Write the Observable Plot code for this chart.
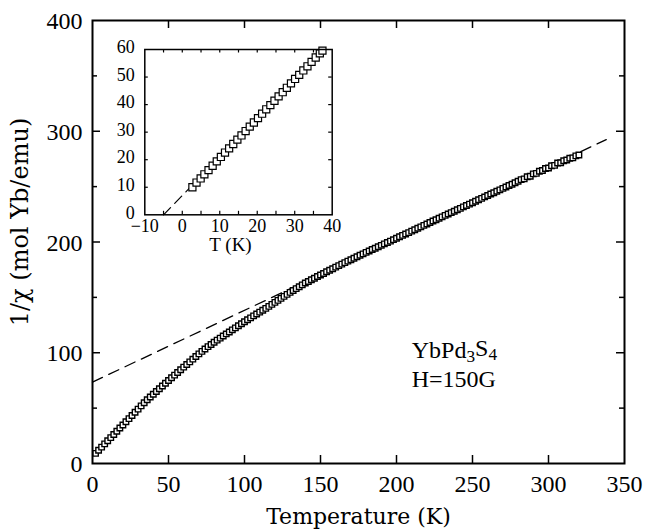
<!DOCTYPE html>
<html><head><meta charset="utf-8">
<script src="https://cdn.jsdelivr.net/npm/d3@7"></script>
<script src="https://cdn.jsdelivr.net/npm/@observablehq/plot@0.6"></script>
<style>
html,body{margin:0;padding:0;background:#fff;}
#wrap{position:relative;width:645px;height:531px;overflow:hidden;}
#main{position:absolute;left:0;top:0;}
#inset{position:absolute;left:95px;top:30px;}
svg{overflow:visible;}
</style></head><body><div id="wrap"><div id="main"></div><div id="inset"></div></div>
<script>
// ---- main data: 1/chi vs T (YbPd3S4, H=150G) ----
const temperature = [2,4,6,8,10,12,14,16,18,20,22,24,26,28,30,32,34,36,38,40,
 42,44,46,48,50,52,54,56,58,60,62,64,66,68,70,72,74,76,78,80,
 82,84,86,88,90,92,94,96,98,100,102,104,106,108,110,112,114,116,118,120,
 122,124,126,128,130,132,134,136,138,140,142,144,146,148,150,152,154,156,158,160,
 162,164,166,168,170,172,174,176,178,180,182,184,186,188,190,192,194,196,198,200,
 202,204,206,208,210,212,214,216,218,220,222,224,226,228,230,232,234,236,238,240,
 242,244,246,248,250,252,254,256,258,260,262,264,266,268,270,272,274,276,278,280,
 282,284,286,288,290,292,294,296,298,300,302,304,306,308,310,312,314,316,318,320];
const invChi = [9.1,11.9,14.8,17.7,20.5,23.4,26.2,29.1,32.0,34.8,37.7,40.5,43.4,46.3,49.1,52.0,54.8,57.6,60.1,62.5,
 65.0,67.5,70.0,72.5,75.0,77.4,79.8,82.2,84.6,87.0,89.4,91.8,94.2,96.6,99.0,101.2,103.4,105.5,107.5,109.5,
 111.4,113.2,115.1,117.0,118.8,120.7,122.5,124.4,126.2,128.0,129.8,131.5,133.3,135.0,136.7,138.4,140.1,141.9,143.7,145.5,
 147.3,149.1,150.9,152.7,154.5,156.2,157.9,159.6,161.3,163.0,164.4,165.9,167.3,168.8,170.2,171.6,173.1,174.5,175.9,177.3,
 178.7,180.0,181.4,182.7,184.0,185.3,186.7,188.0,189.3,190.6,191.9,193.2,194.4,195.7,197.0,198.3,199.6,200.8,202.1,203.4,
 204.7,206.0,207.2,208.5,209.8,211.1,212.4,213.7,215.0,216.3,217.6,218.9,220.1,221.4,222.7,224.0,225.3,226.5,227.8,229.1,
 230.4,231.7,232.9,234.2,235.5,236.8,238.1,239.4,240.7,242.0,243.3,244.5,245.8,247.1,248.4,249.7,251.0,252.2,253.5,254.8,
 256.3,257.0,258.9,259.4,261.5,262.0,263.9,264.6,266.4,266.8,268.9,269.2,271.3,271.5,273.4,274.0,275.6,276.0,277.8,278.6];
// high-T Curie-Weiss fit (dashed)
const fitHighT = [0, 338];
const fitHighV = [73.5, 292.5];

// ---- inset data: low-T region ----
const insetT = [2.7,3.8,4.9,5.9,7.0,8.1,9.2,10.3,11.4,12.5,13.6,14.7,15.8,16.9,18.0,19.1,20.2,
 21.3,22.4,23.5,24.6,25.7,26.8,27.9,29.0,30.1,31.2,32.3,33.4,34.5,35.6,36.7,37.4];
const insetInvChi = [10.0,11.7,13.2,14.7,16.2,17.8,19.4,21.0,22.6,24.1,25.7,27.3,28.8,30.4,32.0,33.5,35.1,
 36.7,38.3,39.8,41.4,43.0,44.5,46.1,47.7,49.3,50.8,52.4,53.9,55.5,57.1,58.6,59.6];
const fitLowT = [-5, 37.9];
const fitLowV = [0, 60];

// ---- ticks & labels ----
const xTicks = [0,50,100,150,200,250,300,350];
const yTicks = [0,100,200,300,400];
const yMinor = [50,150,250,350];
const insetXTicks = [-10,0,10,20,30,40];
const insetXMinor = [-5,0,5,10,15,20,25,30,35];
const insetYTicks = [0,10,20,30,40,50,60];
const insetYInner = [10,20,30,40,50];
const xLabel = "Temperature (K)";
const yLabel = "1/\u03c7 (mol Yb/emu)";
const insetXLabel = "T (K)";
const annotations = [{t: 210, v: 95.5, label: "YbPd3S4"}, {t: 210, v: 69.5, label: "H=150G"}];

const serif = "Liberation Serif, Times New Roman, serif";
const serif2 = "DejaVu Serif, serif";
const fmt = d => String(d).replace("-", "\u2212");

// ---- main plot ----
const W = 645, H = 531, mL = 92, mR = 21, mT = 20, mB = 68;
const pw = W - mL - mR, ph = H - mT - mB;
const rows = temperature.map((t, i) => ({t, v: invChi[i]}));
const fitHigh = fitHighT.map((t, i) => ({t, v: fitHighV[i]}));

const main = Plot.plot({
  width: W, height: H, marginLeft: mL, marginRight: mR, marginTop: mT, marginBottom: mB,
  x: {domain: [0, 350], axis: null},
  y: {domain: [0, 400], axis: null},
  style: {background: "transparent", fontFamily: serif, color: "black", overflow: "visible"},
  marks: [
    // inward ticks
    Plot.tickX(xTicks.slice(1, -1), {x: d => d, insetTop: ph - 8, stroke: "black", strokeWidth: 1.5}),
    Plot.tickX(xTicks.slice(1, -1), {x: d => d, insetBottom: ph - 8, stroke: "black", strokeWidth: 1.5}),
    Plot.tickY(yTicks.slice(1, -1), {y: d => d, insetRight: pw - 8, stroke: "black", strokeWidth: 1.5}),
    Plot.tickY(yTicks.slice(1, -1), {y: d => d, insetLeft: pw - 8, stroke: "black", strokeWidth: 1.5}),
    Plot.tickY(yMinor, {y: d => d, insetRight: pw - 5, stroke: "black", strokeWidth: 1.5}),
    Plot.tickY(yMinor, {y: d => d, insetLeft: pw - 5, stroke: "black", strokeWidth: 1.5}),
    // fit line
    Plot.line(fitHigh, {x: "t", y: "v", stroke: "black", strokeWidth: 1.3, strokeDasharray: "11,7"}),
    // data
    Plot.dot(rows, {x: "t", y: "v", symbol: "square", r: 3.1, fill: "white", stroke: "black", strokeWidth: 1.4}),
    Plot.frame({stroke: "black", strokeWidth: 2}),
    // tick labels
    Plot.text(xTicks, {x: d => d, frameAnchor: "bottom", lineAnchor: "middle", dy: 21, text: fmt, fontSize: 24, fontFamily: serif}),
    Plot.text(yTicks, {y: d => d, frameAnchor: "left", lineAnchor: "middle", dx: -10, dy: 1, textAnchor: "end", text: fmt, fontSize: 24, fontFamily: serif}),
    // axis labels
    Plot.text([xLabel], {frameAnchor: "bottom", lineAnchor: "middle", textAnchor: "middle", dy: 53, text: d => d, fontSize: 22, fontFamily: serif2}),
    Plot.text([yLabel], {frameAnchor: "left", lineAnchor: "middle", textAnchor: "middle", dx: -72, dy: -20, rotate: -90, text: d => d, fontSize: 24, fontFamily: serif2}),
    // annotations
    Plot.text(annotations, {x: "t", y: "v", text: "label", textAnchor: "start", lineAnchor: "bottom", fontSize: 24, fontFamily: serif})
  ]
});
document.getElementById("main").appendChild(main);

// subscripts for chemical formula
d3.select(main).selectAll("text").filter(function() { return this.textContent === "YbPd3S4"; })
  .each(function() {
    const t = d3.select(this);
    t.text(null);
    t.append("tspan").text("YbPd");
    t.append("tspan").attr("dy", "0.25em").attr("font-size", "72%").text("3");
    t.append("tspan").attr("dy", "-0.25em").text("S");
    t.append("tspan").attr("dy", "0.25em").attr("font-size", "72%").text("4");
  });

// ---- inset ----
const iW = 250, iH = 230, iL = 49.3, iT = 19, iR = 13.3, iB = 45.7;
const ipw = iW - iL - iR, iph = iH - iT - iB;
const insetRows = insetT.map((t, i) => ({t, v: insetInvChi[i]}));
const fitLow = fitLowT.map((t, i) => ({t, v: fitLowV[i]}));
const inset = Plot.plot({
  width: iW, height: iH, marginLeft: iL, marginRight: iR, marginTop: iT, marginBottom: iB,
  x: {domain: [-10, 40], axis: null},
  y: {domain: [0, 60], axis: null},
  style: {background: "transparent", fontFamily: serif, color: "black", overflow: "visible"},
  marks: [
    Plot.tickX(insetXMinor, {x: d => d, insetTop: iph - 3.5, stroke: "black", strokeWidth: 1.2}),
    Plot.tickX(insetXMinor, {x: d => d, insetBottom: iph - 3.5, stroke: "black", strokeWidth: 1.2}),
    Plot.tickY(insetYInner, {y: d => d, insetRight: ipw - 3.5, stroke: "black", strokeWidth: 1.2}),
    Plot.tickY(insetYInner, {y: d => d, insetLeft: ipw - 3.5, stroke: "black", strokeWidth: 1.2}),
    Plot.line(fitLow, {x: "t", y: "v", stroke: "black", strokeWidth: 1.2, strokeDasharray: "10,6"}),
    Plot.dot(insetRows, {x: "t", y: "v", symbol: "square", r: 4, fill: "white", stroke: "black", strokeWidth: 1.2}),
    Plot.frame({stroke: "black", strokeWidth: 1.5}),
    Plot.text(insetXTicks, {x: d => d, frameAnchor: "bottom", lineAnchor: "middle", dy: 11, text: fmt, fontSize: 18, fontFamily: serif}),
    Plot.text(insetYTicks, {y: d => d, frameAnchor: "left", lineAnchor: "middle", dx: -10, dy: -2, textAnchor: "end", text: fmt, fontSize: 18, fontFamily: serif}),
    Plot.text([insetXLabel], {frameAnchor: "bottom", lineAnchor: "middle", textAnchor: "middle", dx: -8, dy: 30, text: d => d, fontSize: 19, fontFamily: serif})
  ]
});
document.getElementById("inset").appendChild(inset);
</script>
</body></html>
